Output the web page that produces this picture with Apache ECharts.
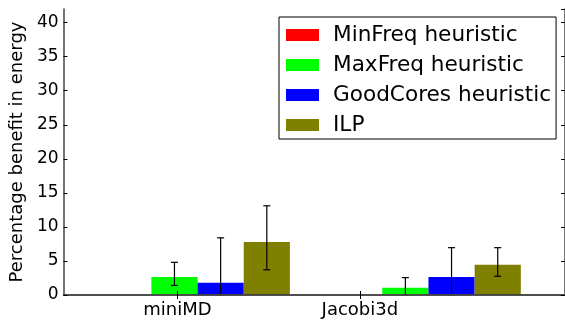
<!DOCTYPE html>
<html>
<head>
<meta charset="utf-8">
<script src="https://cdn.jsdelivr.net/npm/echarts@6/dist/echarts.min.js"></script>
<style>
html,body{margin:0;padding:0;background:#fff;}
#chart{width:565px;height:320px;}
</style>
</head>
<body>
<div id="chart"></div>
<script>
// ---- data ----
const categories = ['miniMD', 'Jacobi3d'];
const seriesNames = ['MinFreq heuristic', 'MaxFreq heuristic', 'GoodCores heuristic', 'ILP'];
const seriesColors = ['#ff0000', '#00ff00', '#0000ff', '#808000'];
const minFreq = [0, 0];
const maxFreq = [2.65, 1.05];
const goodCores = [1.8, 2.65];
const ilp = [7.8, 4.45];
// error bars: [low, high] per category
const minFreqErr = [null, null];
const maxFreqErr = [[1.4, 4.8], [0, 2.55]];
const goodCoresErr = [[0, 8.4], [0, 6.95]];
const ilpErr = [[3.7, 13.1], [2.75, 6.95]];
// tick label slots on the frame axis (matplotlib tick positions)
const xSlotLabels = ['', '', 'miniMD', '', '', '', 'Jacobi3d', '', '', '', ''];
const yMin = 0, yMax = 42, yInterval = 5;

const values = [minFreq, maxFreq, goodCores, ilp];
const errs = [minFreqErr, maxFreqErr, goodCoresErr, ilpErr];

const FONT = 'DejaVu Sans';
const AX = '#444';
const frameLeft = 59, frameTop = 9, frameW = 508, frameH = 286;
const slot = frameW / 11;

const chart = echarts.init(document.getElementById('chart'), null, {renderer: 'canvas'});

const series = [];
values.forEach((v, i) => {
  series.push({
    type: 'bar', name: seriesNames[i], xAxisIndex: 2, yAxisIndex: 2,
    data: v, barWidth: slot, barGap: '0%',
    itemStyle: {color: seriesColors[i]},
    z: 2
  });
});
errs.forEach((e, si) => {
  const d = [];
  e.forEach((lh, ci) => { if (lh) d.push([ci, lh[0], lh[1]]); });
  if (!d.length) return;
  series.push({
    type: 'custom', xAxisIndex: 2, yAxisIndex: 2, z: 4, silent: true,
    data: d,
    renderItem: function (params, api) {
      const c = api.value(0);
      const lo = api.coord([c, api.value(1)]);
      const hi = api.coord([c, api.value(2)]);
      const bw = api.size([1, 0])[0] * 0.2;
      const x = lo[0] + (si - 1.5) * bw;
      const cap = 3.5;
      const st = {stroke: '#000', lineWidth: 1.2};
      return {type: 'group', children: [
        {type: 'line', shape: {x1: x, y1: lo[1], x2: x, y2: hi[1]}, style: st},
        {type: 'line', shape: {x1: x - cap, y1: lo[1], x2: x + cap, y2: lo[1]}, style: st},
        {type: 'line', shape: {x1: x - cap, y1: hi[1], x2: x + cap, y2: hi[1]}, style: st}
      ]};
    }
  });
});

const tickShow = (idx) => xSlotLabels[idx] !== '';

const option = {
  animation: false,
  backgroundColor: '#fff',
  grid: [
    {left: frameLeft, top: frameTop, width: frameW, height: frameH, containLabel: false},
    {left: frameLeft + slot / 2, top: frameTop, width: slot * 10, height: frameH, containLabel: false}
  ],
  legend: {
    data: seriesNames, orient: 'vertical', left: 279, top: 17,
    padding: [7, 5, 3, 7], itemGap: 8, itemWidth: 33, itemHeight: 12,
    icon: 'rect', borderColor: '#000', borderWidth: 1, backgroundColor: '#fff',
    textStyle: {fontFamily: FONT, fontSize: 21.6, color: '#000', lineHeight: 20, padding: [0, 0, 0, 9]},
    z: 10
  },
  xAxis: [
    {type: 'category', gridIndex: 0, position: 'bottom', data: xSlotLabels, boundaryGap: true, z: 5,
     axisLine: {show: true, lineStyle: {color: AX, width: 1.5}},
     axisTick: {show: true, inside: true, length: 4, alignWithLabel: true, interval: tickShow, lineStyle: {color: '#000'}},
     axisLabel: {interval: 0, fontFamily: FONT, fontSize: 18, color: '#000', margin: 6},
     splitLine: {show: false}},
    {type: 'category', gridIndex: 0, position: 'top', data: xSlotLabels, boundaryGap: true, z: 5,
     axisLine: {show: true, lineStyle: {color: AX, width: 1.5}},
     axisTick: {show: true, inside: true, length: 4, alignWithLabel: true, interval: tickShow, lineStyle: {color: '#000'}},
     axisLabel: {show: false}, splitLine: {show: false}},
    {type: 'category', gridIndex: 1, data: categories, show: false}
  ],
  yAxis: [
    {type: 'value', gridIndex: 0, position: 'left', min: yMin, max: yMax, interval: yInterval, z: 5,
     name: 'Percentage benefit in energy', nameLocation: 'middle', nameGap: 34, nameRotate: 90,
     nameTextStyle: {fontFamily: FONT, fontSize: 18, color: '#000'},
     axisLine: {show: true, lineStyle: {color: AX, width: 1.5}},
     axisTick: {show: true, inside: true, length: 4, lineStyle: {color: '#000'}},
     axisLabel: {fontFamily: FONT, fontSize: 17, color: '#000', margin: 5, showMaxLabel: false},
     splitLine: {show: false}},
    {type: 'value', gridIndex: 0, position: 'right', min: yMin, max: yMax, interval: yInterval, z: 5,
     axisLine: {show: true, lineStyle: {color: AX, width: 1.5}},
     axisTick: {show: true, inside: true, length: 4, lineStyle: {color: '#000'}},
     axisLabel: {show: false}, splitLine: {show: false}},
    {type: 'value', gridIndex: 1, min: yMin, max: yMax, show: false, splitLine: {show: false}}
  ],
  series: series
};
chart.setOption(option);
</script>
</body>
</html>
